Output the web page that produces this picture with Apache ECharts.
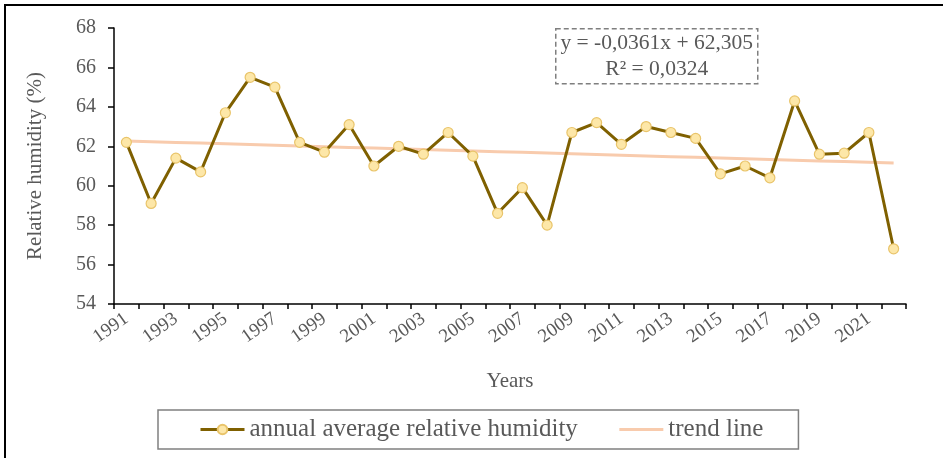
<!DOCTYPE html>
<html>
<head>
<meta charset="utf-8">
<style>
  html, body { margin: 0; padding: 0; background: #fff; }
  #chart { width: 943px; height: 458px; }
</style>
<script src="https://cdn.jsdelivr.net/npm/echarts@6/dist/echarts.min.js"></script>
</head>
<body>
<div id="chart"></div>
<script>
// Annual average relative humidity, 1991–2022
const years = [
  '1991','1992','1993','1994','1995','1996','1997','1998','1999','2000',
  '2001','2002','2003','2004','2005','2006','2007','2008','2009','2010',
  '2011','2012','2013','2014','2015','2016','2017','2018','2019','2020',
  '2021','2022'
];
const humidity = [
  62.2, 59.1, 61.4, 60.7, 63.7, 65.5, 65.0, 62.2, 61.7, 63.1,
  61.0, 62.0, 61.6, 62.7, 61.5, 58.6, 59.9, 58.0, 62.7, 63.2,
  62.1, 63.0, 62.7, 62.4, 60.6, 61.0, 60.4, 64.3, 61.6, 61.65,
  62.7, 56.8
];
// Linear fit coefficients (x = 1 for the first year)
const trendSlope = -0.0361;
const trendIntercept = 62.305;
const trendR2 = '0,0324';
const yTicks = { min: 54, max: 68, step: 2 };

const trend = years.map((_, i) => +(trendSlope * (i + 1) + trendIntercept).toFixed(4));

const serif = '"Liberation Serif", "Times New Roman", serif';
const grey = '#595959';

const chart = echarts.init(document.getElementById('chart'));
chart.setOption({
  animation: false,
  backgroundColor: '#fff',
  grid: { left: 114, right: 37, top: 28, bottom: 154 },
  xAxis: {
    type: 'category',
    data: years,
    boundaryGap: true,
    name: 'Years',
    nameLocation: 'middle',
    nameGap: 67,
    nameTextStyle: { fontFamily: serif, fontSize: 21, color: grey },
    axisLine: { lineStyle: { color: '#000', width: 1.5 } },
    axisTick: { show: true, length: 5, interval: 0, lineStyle: { color: '#000', width: 1.5 } },
    axisLabel: {
      interval: 1,
      rotate: 35,
      margin: 13,
      fontFamily: serif,
      fontSize: 19,
      color: grey
    },
    splitLine: { show: false }
  },
  yAxis: {
    type: 'value',
    min: yTicks.min,
    max: yTicks.max,
    interval: yTicks.step,
    name: 'Relative humidity (%)',
    nameLocation: 'middle',
    nameGap: 68,
    nameTextStyle: { fontFamily: serif, fontSize: 21, color: grey },
    axisLine: { show: true, lineStyle: { color: '#000', width: 1.5 } },
    axisTick: { show: true, length: 6, lineStyle: { color: '#000', width: 1.5 } },
    axisLabel: { fontFamily: serif, fontSize: 20, color: grey, margin: 18 },
    splitLine: { show: false }
  },
  legend: {
    bottom: 9,
    left: 158,
    itemWidth: 44,
    itemHeight: 12,
    itemGap: 40,
    padding: [7, 35, 7, 41],
    borderColor: '#808080',
    borderWidth: 1.5,
    textStyle: { fontFamily: serif, fontSize: 25, color: grey },
    data: [
      { name: 'annual average relative humidity', lineStyle: { width: 3 } },
      // plain line key: hide the marker that line series add to their legend icon
      { name: 'trend line', itemStyle: { opacity: 0 }, lineStyle: { width: 3 } }
    ]
  },
  graphic: [
    {
      type: 'rect',
      shape: { x: 5, y: 5, width: 1000, height: 600 },
      style: { fill: 'none', stroke: '#000', lineWidth: 2 },
      silent: true
    },
    {
      type: 'group',
      left: 555, top: 28,
      children: [
        {
          type: 'rect',
          shape: { x: 0, y: 0, width: 202, height: 55 },
          style: { fill: '#fff', stroke: '#7f7f7f', lineWidth: 1.5, lineDash: [5, 3] }
        },
        {
          type: 'text',
          x: 101, y: 15,
          style: {
            text: 'y = -0,0361x + 62,305',
            fontFamily: serif, fontSize: 21.5, fill: grey,
            align: 'center', verticalAlign: 'middle'
          }
        },
        {
          type: 'text',
          x: 101, y: 41,
          style: {
            text: 'R² = ' + trendR2,
            fontFamily: serif, fontSize: 21.5, fill: grey,
            align: 'center', verticalAlign: 'middle'
          }
        }
      ]
    }
  ],
  series: [
    {
      name: 'trend line',
      type: 'line',
      data: trend,
      symbol: 'none',
      lineStyle: { color: '#F8CBAD', width: 3 },
      itemStyle: { color: '#F8CBAD' },
      z: 2
    },
    {
      name: 'annual average relative humidity',
      type: 'line',
      data: humidity,
      symbol: 'circle',
      symbolSize: 10,
      lineStyle: { color: '#7F6000', width: 3 },
      itemStyle: { color: '#FDE7A8', borderColor: '#E9C46A', borderWidth: 1.2 },
      z: 3
    }
  ]
});
</script>
</body>
</html>
